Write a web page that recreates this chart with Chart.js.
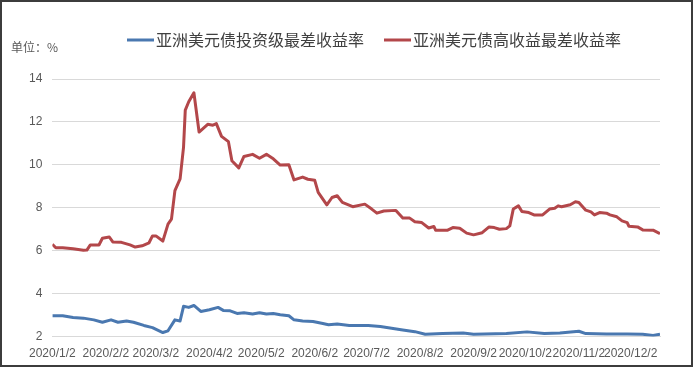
<!DOCTYPE html>
<html>
<head>
<meta charset="utf-8">
<script src="https://cdn.jsdelivr.net/npm/chart.js@4.4.1/dist/chart.umd.min.js"></script>
<style>
  body { margin: 0; background: #fff; }
  #wrap { width: 696px; height: 369px; }
</style>
</head>
<body>
<div id="wrap"><canvas id="myChart" width="696" height="369"></canvas></div>
<script>
// series names
var seriesNames = ['亚洲美元债投资级最差收益率', '亚洲美元债高收益最差收益率'];

// tick labels on the date axis
var tickLabels = ['2020/1/2', '2020/2/2', '2020/3/2', '2020/4/2', '2020/5/2', '2020/6/2',
  '2020/7/2', '2020/8/2', '2020/9/2', '2020/10/2', '2020/11/2', '2020/12/2'];

// investment grade (blue)
var igDates = ['1/2','1/8','1/14','1/20','1/26','1/31','2/5','2/9','2/14','2/18',
  '2/24','2/29','3/6','3/9','3/13','3/16','3/18','3/21','3/24','3/28',
  '4/2','4/7','4/10','4/14','4/18','4/22','4/27','5/1','5/5','5/9',
  '5/13','5/18','5/21','5/26','6/1','6/6','6/10','6/15','6/22','7/3',
  '7/10','7/23','7/30','8/5','8/15','8/27','9/2','9/21','10/3','10/13',
  '10/22','11/2','11/6','11/18','11/30','12/9','12/15','12/19'];
var igValues = [2.97,2.97,2.89,2.86,2.78,2.67,2.78,2.67,2.73,2.67,
  2.52,2.42,2.19,2.27,2.78,2.73,3.41,3.36,3.45,3.17,
  3.25,3.36,3.22,3.20,3.08,3.11,3.05,3.11,3.05,3.08,
  3.02,2.97,2.78,2.73,2.70,2.62,2.55,2.59,2.52,2.52,
  2.47,2.31,2.23,2.11,2.14,2.17,2.11,2.14,2.22,2.14,
  2.17,2.25,2.14,2.12,2.12,2.11,2.05,2.11];

// high yield (red)
var hyDates = ['1/2','1/4','1/8','1/14','1/20','1/22','1/24','1/29','1/31','2/4',
  '2/6','2/11','2/16','2/19','2/23','2/27','2/29','3/2','3/6','3/9',
  '3/11','3/13','3/16','3/18','3/19','3/21','3/24','3/27','4/1','4/4',
  '4/6','4/9','4/13','4/15','4/19','4/22','4/27','5/1','5/5','5/9',
  '5/13','5/18','5/21','5/26','5/29','6/2','6/4','6/9','6/12','6/15',
  '6/18','6/24','7/1','7/5','7/8','7/12','7/19','7/23','7/27','7/30',
  '8/3','8/7','8/10','8/11','8/18','8/21','8/25','8/29','9/2','9/7',
  '9/11','9/14','9/17','9/21','9/23','9/25','9/28','9/30','10/4','10/7',
  '10/12','10/16','10/19','10/21','10/23','10/28','10/31','11/2','11/6','11/9',
  '11/11','11/14','11/18','11/20','11/24','11/27','11/30','12/1','12/6','12/9',
  '12/15','12/19'];
var hyValues = [6.30,6.14,6.14,6.09,6.02,6.03,6.27,6.27,6.58,6.64,
  6.41,6.39,6.27,6.17,6.23,6.37,6.69,6.69,6.45,7.24,
  7.47,8.80,9.35,10.83,12.55,12.94,13.36,11.53,11.89,11.85,
  11.92,11.33,11.08,10.19,9.86,10.39,10.49,10.31,10.49,10.28,
  9.99,10.01,9.30,9.43,9.33,9.28,8.72,8.14,8.48,8.56,
  8.25,8.05,8.17,7.94,7.75,7.85,7.88,7.52,7.52,7.35,
  7.31,7.06,7.13,6.96,6.96,7.08,7.05,6.82,6.74,6.84,
  7.11,7.08,7.00,7.03,7.16,7.94,8.09,7.83,7.78,7.67,
  7.67,7.94,7.98,8.09,8.05,8.14,8.28,8.25,7.89,7.81,
  7.67,7.78,7.75,7.67,7.58,7.39,7.31,7.14,7.11,6.97,
  6.96,6.80];

var colors = ['#4a78b0', '#b3474a'];

// days since 2020/1/2
function dayOf(s) {
  var p = s.split('/');
  if (p.length === 3) p = p.slice(1);
  return (Date.UTC(2020, +p[0] - 1, +p[1]) - Date.UTC(2020, 0, 2)) / 86400000;
}
function toPoints(dates, values) {
  return dates.map(function (d, i) { return { x: dayOf(d), y: values[i] }; });
}

var lastDay = Math.max(dayOf(igDates[igDates.length - 1]), dayOf(hyDates[hyDates.length - 1]));

var font = '"Liberation Sans", "Noto Sans CJK SC", sans-serif';

var extraText = {
  id: 'extraText',
  afterDraw: function (chart) {
    var ctx = chart.ctx;
    ctx.save();
    // unit
    ctx.fillStyle = '#595959';
    ctx.font = '12px "Noto Sans CJK SC", sans-serif';
    ctx.textBaseline = 'middle';
    ctx.textAlign = 'left';
    ctx.fillText('单位：%', 11, 47);
    // legend
    ctx.font = '16px "Noto Sans CJK SC", sans-serif';
    ctx.fillStyle = '#404040';
    var x = 127, y = 40;
    seriesNames.forEach(function (name, i) {
      ctx.strokeStyle = colors[i];
      ctx.lineWidth = 3;
      ctx.beginPath();
      ctx.moveTo(x, y);
      ctx.lineTo(x + 27, y);
      ctx.stroke();
      ctx.fillText(name, x + 29, y);
      x += 29 + ctx.measureText(name).width + 20;
    });
    // frame
    ctx.strokeStyle = '#3c3c3c';
    ctx.lineWidth = 2;
    ctx.strokeRect(1, 1, 691, 365);
    ctx.restore();
  }
};

var ctx_chart = document.getElementById('myChart');
var myChart = new Chart(ctx_chart, {
  type: 'line',
  data: {
    datasets: [{
      label: seriesNames[0],
      data: toPoints(igDates, igValues),
      borderColor: colors[0],
      backgroundColor: colors[0],
      borderWidth: 3,
      pointRadius: 0,
      tension: 0,
      borderJoinStyle: 'round'
    }, {
      label: seriesNames[1],
      data: toPoints(hyDates, hyValues),
      borderColor: colors[1],
      backgroundColor: colors[1],
      borderWidth: 3,
      pointRadius: 0,
      tension: 0,
      borderJoinStyle: 'round'
    }]
  },
  options: {
    responsive: false,
    animation: false,
    layout: {
      padding: { left: 19, right: 36, top: 79, bottom: -2 }
    },
    plugins: {
      legend: { display: false },
      tooltip: { enabled: false }
    },
    scales: {
      x: {
        type: 'linear',
        min: 0,
        max: lastDay,
        afterBuildTicks: function (axis) {
          axis.ticks = tickLabels.map(function (s) { return { value: dayOf(s) }; });
        },
        grid: { display: false, drawTicks: false },
        border: { display: true, color: '#d9d9d9' },
        ticks: {
          autoSkip: false,
          maxRotation: 0,
          padding: 10,
          color: '#595959',
          font: { size: 12, family: font },
          callback: function (value, index) { return tickLabels[index]; }
        }
      },
      y: {
        min: 2,
        max: 14,
        grid: { color: '#d9d9d9', drawTicks: false },
        border: { display: false },
        ticks: {
          stepSize: 2,
          padding: 10,
          color: '#595959',
          font: { size: 12, family: font }
        }
      }
    }
  },
  plugins: [extraText]
});
</script>
</body>
</html>
